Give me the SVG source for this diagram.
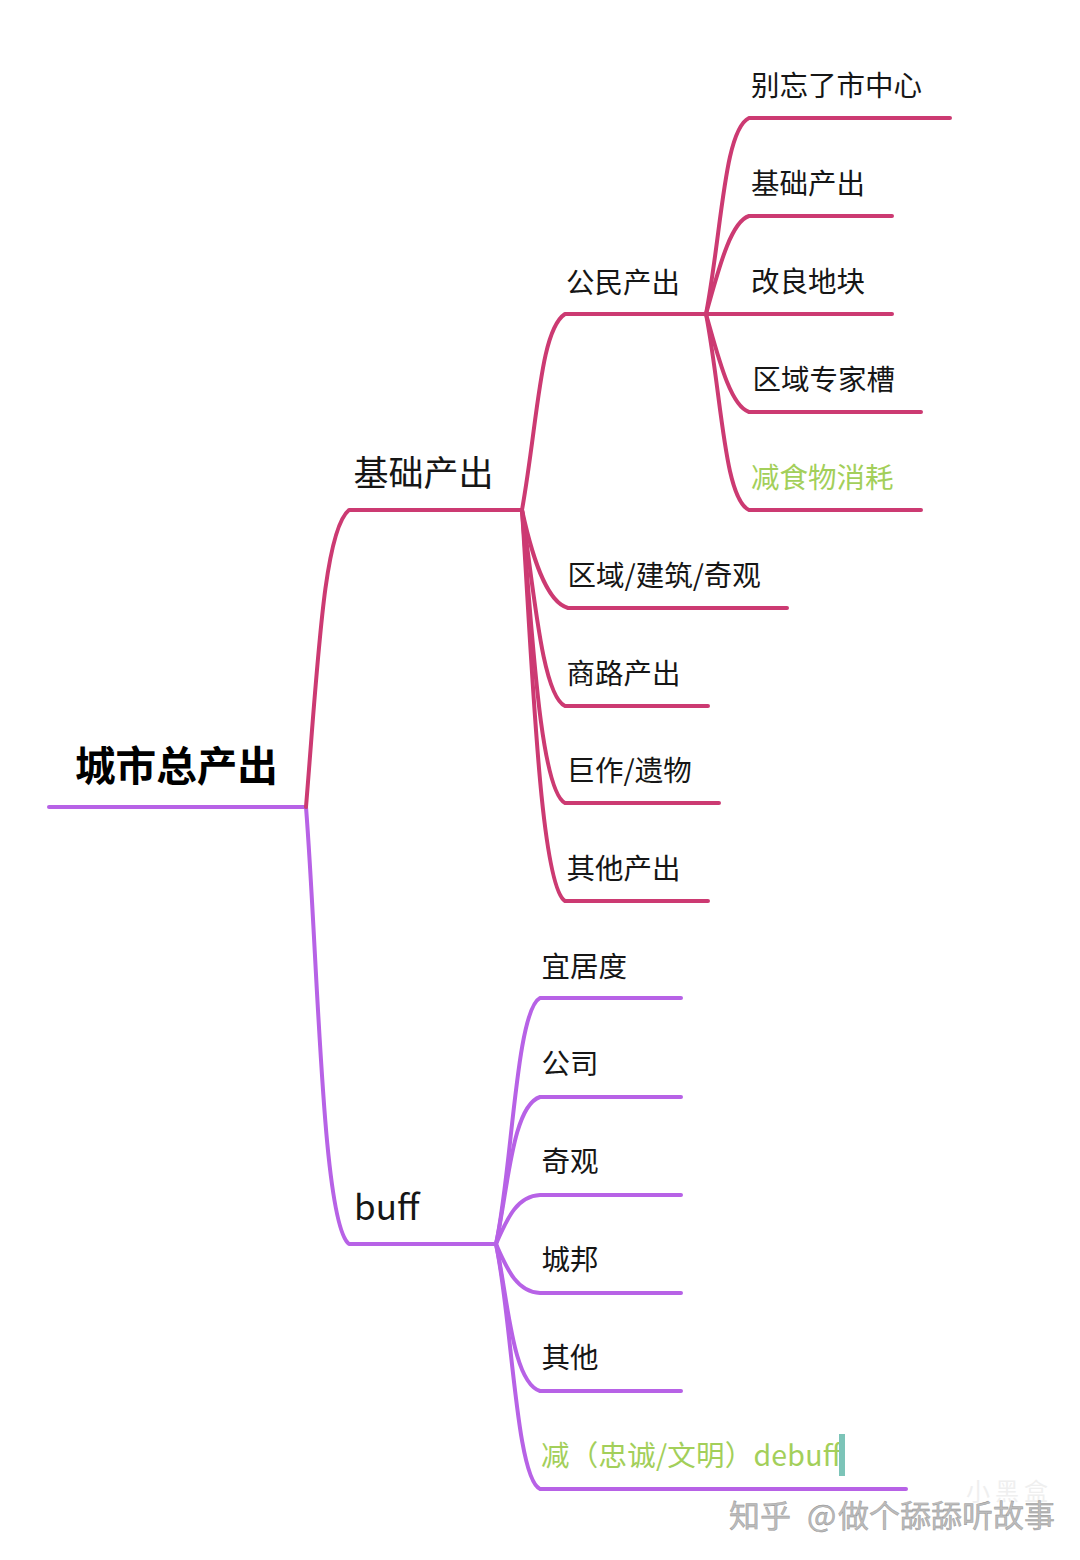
<svg xmlns="http://www.w3.org/2000/svg" width="1080" height="1560" viewBox="0 0 1080 1560">
<style>
text{font-family:"Noto Sans CJK SC","Noto Sans",sans-serif;fill:#161616}
.l{font-size:28.5px}
.g{fill:#a3cf5a}
.c path{fill:none;stroke-width:4;stroke-linecap:round;stroke-linejoin:round}
.r path{stroke:#cc3a72}
.p path{stroke:#b762e6}
.w{font-size:31px;fill:#bcbcbc;stroke:#8f8f8f;stroke-width:.4}
</style>
<rect width="1080" height="1560" fill="#fff"/>
<g id="connectors" class="c">
<g class="p">
<path d="M49 807H306"/>
<path d="M306 807C318 960 322 1224 349 1244H495"/>
<path d="M496 1244C512 1170 516 1010 540 998H681"/>
<path d="M496 1244C508 1190 512 1106 540 1097H681"/>
<path d="M496 1244C508 1216 518 1196 540 1195H681"/>
<path d="M496 1244C508 1272 518 1292 540 1293H681"/>
<path d="M496 1244C508 1298 512 1382 540 1391H681"/>
<path d="M496 1244C512 1320 516 1478 540 1489H906"/>
</g>
<g class="r">
<path d="M306 807C318 660 324 530 349 510H522"/>
<path d="M522 510C538 420 540 330 565 314H706"/>
<path d="M522 510C532 556 546 602 568 608H787"/>
<path d="M522 510C534 590 542 695 565 706H708"/>
<path d="M522 510C532 630 540 790 565 803H719"/>
<path d="M522 510C532 660 540 885 565 901H708"/>
<path d="M706 314C722 230 724 130 749 118H950"/>
<path d="M706 314C718 272 730 222 749 216H892"/>
<path d="M706 314H892"/>
<path d="M706 314C718 356 730 406 749 412H921"/>
<path d="M706 314C722 398 724 498 749 510H921"/>
</g>
</g>
<g id="root"><text x="75" y="781" font-size="40.6" font-weight="700" style="fill:#000">城市总产出</text></g>
<g id="n-base"><text x="353.500" y="485.500" font-size="35">基础产出</text></g>
<g id="n-buff"><text x="354" y="1220" font-size="35">buff</text></g>
<g id="n-citizen"><text class="l" x="566" y="292.500">公民产出</text></g>
<g id="n-district"><text class="l" x="567.500" y="585.500">区域/建筑/奇观</text></g>
<g id="n-trade"><text class="l" x="566.500" y="684">商路产出</text></g>
<g id="n-great"><text class="l" x="566.500" y="781">巨作/遗物</text></g>
<g id="n-other-output"><text class="l" x="566.500" y="879">其他产出</text></g>
<g id="n-center"><text class="l" x="751" y="96">别忘了市中心</text></g>
<g id="n-basic"><text class="l" x="751" y="194">基础产出</text></g>
<g id="n-tile"><text class="l" x="751" y="292">改良地块</text></g>
<g id="n-slot"><text class="l" x="752.500" y="390">区域专家槽</text></g>
<g id="n-food"><text class="l g" x="751" y="487.500">减食物消耗</text></g>
<g id="n-amenity"><text class="l" x="541.500" y="977">宜居度</text></g>
<g id="n-corp"><text class="l" x="541.500" y="1074">公司</text></g>
<g id="n-wonder"><text class="l" x="541.500" y="1172">奇观</text></g>
<g id="n-city"><text class="l" x="541.500" y="1270">城邦</text></g>
<g id="n-other"><text class="l" x="541.500" y="1368">其他</text></g>
<g id="n-debuff"><text class="l g" x="541" y="1466" textLength="300" lengthAdjust="spacing">减（忠诚/文明）debuff</text><rect x="839" y="1434" width="6" height="42" fill="#7cc4b8"/></g>
<g id="watermark"><text x="966" y="1500" font-size="24" letter-spacing="5" style="fill:#efefef">小黑盒</text><text class="w" y="1527"><tspan x="729">知乎</tspan><tspan x="807">@</tspan><tspan x="838">做个舔舔听故事</tspan></text></g>
</svg>
